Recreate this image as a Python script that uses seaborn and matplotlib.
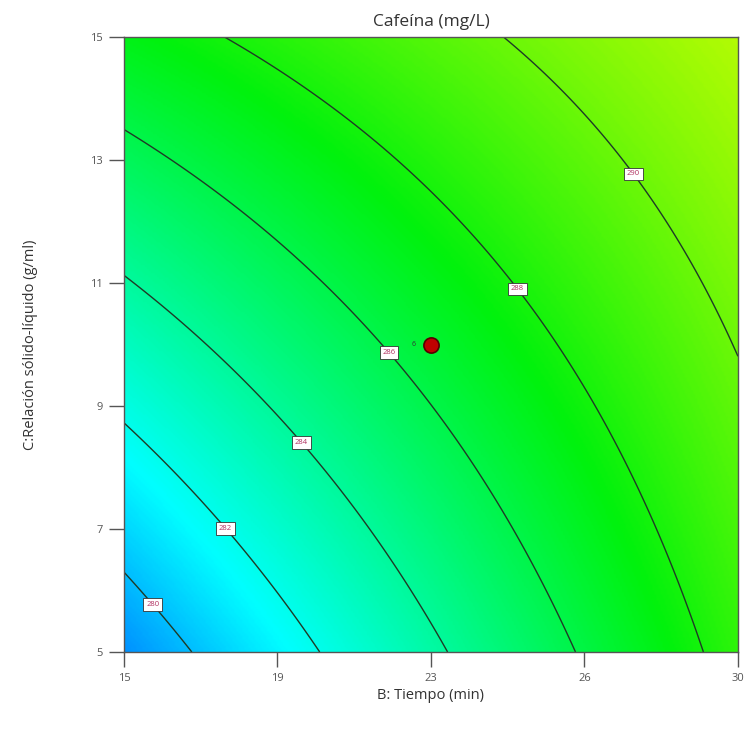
import numpy as np
import pandas as pd
import matplotlib
matplotlib.use("Agg")
import matplotlib.pyplot as plt
from matplotlib.colors import LinearSegmentedColormap
import seaborn as sns

# ---- data (fitted quadratic model in coded units) ----
tiempo_range = [15.0, 30.0]          # B: Tiempo (min)
relacion_range = [5.0, 15.0]         # C: Relación sólido-líquido (g/ml)
coef_intercept = 286.56
coef_B = 3.50
coef_C = 2.87
coef_BC = -1.30
coef_B2 = 0.0
coef_C2 = 0.05
contour_levels = [280, 282, 284, 286, 288, 290]
label_pos_B = [15.75, 17.55, 19.5, 21.7, 24.8, 27.6]
label_pos_C = [5.8, 7.05, 8.5, 10.0, 11.0, 12.85]
center_B = [22.5]
center_C = [10.0]
center_count = ["6"]
xtick_vals = [15, 18.75, 22.5, 26.25, 30]
xtick_labels = ["15", "19", "23", "26", "30"]
ytick_vals = [5, 7, 9, 11, 13, 15]
ytick_labels = ["5", "7", "9", "11", "13", "15"]

sns.set_theme(style="white")
plt.rcParams['font.family'] = ['Open Sans', 'DejaVu Sans']

B = np.linspace(tiempo_range[0], tiempo_range[1], 301)
C = np.linspace(relacion_range[0], relacion_range[1], 301)
BB, CC = np.meshgrid(B, C)
u = (BB - 22.5) / 7.5
v = (CC - 10.0) / 5.0
Z = (coef_intercept + coef_B * u + coef_C * v + coef_BC * u * v
     + coef_B2 * u ** 2 + coef_C2 * v ** 2)

cmap = LinearSegmentedColormap.from_list(
    "de", [(0.0, (0.0, 0.0, 1.0)), (0.25, (0.0, 1.0, 1.0)),
           (0.5, (0.0, 0.95, 0.05)), (0.75, (1.0, 1.0, 0.0)),
           (1.0, (1.0, 0.0, 0.0))])

fig = plt.figure(figsize=(7.53, 7.46), dpi=100)
ax = fig.add_axes([0.1647, 0.126, 0.8153, 0.8244])
ax.imshow(Z, origin="lower", extent=[15, 30, 5, 15], aspect="auto",
          cmap=cmap, vmin=275.5, vmax=299.5, interpolation="bilinear")
cs = ax.contour(BB, CC, Z, levels=contour_levels, colors="#1f3a26",
                linewidths=1.0)
labels = ax.clabel(cs, fmt="%d", fontsize=5.5, inline=False,
                   manual=list(zip(label_pos_B, label_pos_C)))
for t in labels:
    t.set_rotation(0)
    t.set_color("#b03060")
    t.set_zorder(6)
    t.set_bbox(dict(boxstyle="square,pad=0.35", fc="white", ec="#333333", lw=0.6))

df_c = pd.DataFrame({"B": center_B, "C": center_C})
sns.scatterplot(data=df_c, x="B", y="C", ax=ax, s=120, color="#c00000",
                edgecolor="#550000", linewidth=1.2, zorder=5, legend=False)
ax.text(center_B[0] - 0.42, center_C[0], center_count[0], fontsize=5,
        color="#333333", ha="center", va="center")

ax.set_xlim(15, 30)
ax.set_ylim(5, 15)
ax.set_xticks(xtick_vals)
ax.set_xticklabels(xtick_labels)
ax.set_yticks(ytick_vals)
ax.set_yticklabels(ytick_labels)
ax.tick_params(axis="both", direction="out", length=11, width=1.0,
               color="#555555", labelsize=8, labelcolor="#555555",
               bottom=True, left=True, pad=4)
for s in ax.spines.values():
    s.set_color("#555555")
    s.set_linewidth(1.0)

ax.set_title("Cafeína (mg/L)", fontsize=12.5, color="#333333", pad=8)
ax.set_xlabel("B: Tiempo (min)", fontsize=10.5, color="#333333", labelpad=3)
ax.set_ylabel("C:Relación sólido-líquido (g/ml)", fontsize=10.5,
              color="#333333", labelpad=38)

fig.savefig("out.png", dpi=100)
